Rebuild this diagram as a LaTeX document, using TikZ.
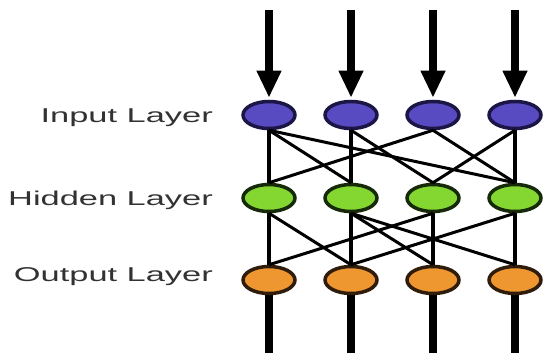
\documentclass[tikz,border=0pt]{standalone}
\usepackage{fontspec}
\setmainfont{Liberation Sans}
\usetikzlibrary{shapes.geometric,arrows.meta}
\definecolor{infill}{RGB}{88,74,192}
\definecolor{inborder}{RGB}{28,22,70}
\definecolor{hidfill}{RGB}{132,214,48}
\definecolor{hidborder}{RGB}{22,42,10}
\definecolor{outfill}{RGB}{238,150,48}
\definecolor{outborder}{RGB}{48,28,10}
\definecolor{labelgray}{RGB}{50,50,50}
\tikzset{
  neuron/.style={ellipse, minimum width=52pt, minimum height=27pt, inner sep=0pt, line width=3.5pt},
  innode/.style={neuron, draw=inborder, fill=infill},
  hidnode/.style={neuron, draw=hidborder, fill=hidfill},
  outnode/.style={neuron, draw=outborder, fill=outfill},
  layerlabel/.style={anchor=base east, inner sep=0pt, text=labelgray, font=\fontsize{20}{24}\selectfont},
  link/.style={line width=3pt, black},
  vlink/.style={line width=3.8pt, black},
  inarrow/.style={line width=8pt, black, -{Triangle[width=23pt,length=27pt]}, shorten >=2pt},
  outline/.style={line width=8pt, black}
}
\begin{document}
\begin{tikzpicture}[x=1pt,y=-1pt]
\useasboundingbox (0,0) rectangle (546,353);
% nodes and free line ends
\foreach \i/\x in {1/269,2/351,3/433,4/515}{
  \coordinate (a\i) at (\x,10);
  \coordinate (b\i) at (\x,353);
  \node[innode] (i\i) at (\x,115) {};
  \node[hidnode] (h\i) at (\x,198) {};
  \node[outnode] (o\i) at (\x,280) {};
}
% labels
\node[layerlabel] (lin) at (213,122) {\scalebox{1.72}[1]{Input Layer}};
\node[layerlabel] (lhid) at (213,205) {\scalebox{1.72}[1]{Hidden Layer}};
\node[layerlabel] (lout) at (213,281) {\scalebox{1.72}[1]{Output Layer}};
% input arrows and output lines
\foreach \i in {1,...,4}{
  \draw[inarrow] (a\i) -- (i\i.north);
  \draw[outline] (o\i.south) -- (b\i);
}
% input -> hidden
\draw[vlink] (i1.south) -- (h1.north);
\draw[vlink] (i2.south) -- (h2.north);
\draw[vlink] (i4.south) -- (h4.north);
\draw[link] (i1.south) -- (h2.north);
\draw[link] (i1.south) -- (h4.north);
\draw[link] (i2.south) -- (h3.north);
\draw[link] (i3.south) -- (h1.north);
\draw[link] (i3.south) -- (h4.north);
\draw[link] (i4.south) -- (h3.north);
% hidden -> output
\draw[vlink] (h1.south) -- (o1.north);
\draw[vlink] (h2.south) -- (o2.north);
\draw[vlink] (h3.south) -- (o3.north);
\draw[vlink] (h4.south) -- (o4.north);
\draw[link] (h1.south) -- (o2.north);
\draw[link] (h2.south) -- (o3.north);
\draw[link] (h2.south) -- (o4.north);
\draw[link] (h3.south) -- (o1.north);
\draw[link] (h4.south) -- (o2.north);
\end{tikzpicture}
\end{document}
